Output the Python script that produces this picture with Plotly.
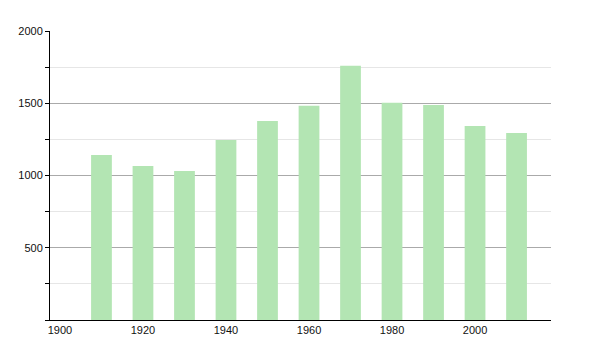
import plotly.graph_objects as go

years = [1910, 1920, 1930, 1940, 1950, 1960, 1970, 1980, 1990, 2000, 2010]
population = [1142, 1066, 1031, 1246, 1377, 1483, 1760, 1504, 1488, 1343, 1294]
x_ticks = [1900, 1920, 1940, 1960, 1980, 2000]
y_ticks = [500, 1000, 1500, 2000]

fig = go.Figure(go.Bar(
    x=years, y=population, width=5,
    marker=dict(color="#b3e5b3", line=dict(width=0)),
))

fig.update_layout(
    width=600, height=350,
    margin=dict(l=50, r=49, t=31, b=30),
    paper_bgcolor="white", plot_bgcolor="white",
    font=dict(family="Liberation Sans, Arial, sans-serif", size=11, color="#111111"),
    showlegend=False,
    xaxis=dict(range=[1897.6, 2018.3], tickvals=x_ticks, ticks="",
               showgrid=False, showline=True, linecolor="black", linewidth=1,
               zeroline=False, tickfont=dict(size=11, color="#111111")),
    yaxis=dict(range=[0, 2000], tickvals=y_ticks, ticks="outside", ticklen=4,
               tickcolor="black", showline=True, linecolor="black", linewidth=1,
               tickfont=dict(size=11, color="#111111"),
               showgrid=True, gridcolor="#aaaaaa", gridwidth=1, zeroline=False,
               minor=dict(tickmode="linear", tick0=0, dtick=250, ticks="outside",
                          ticklen=4, tickcolor="black", showgrid=True,
                          gridcolor="#e6e6e6", gridwidth=1)),
)

fig.write_html("out.html")
